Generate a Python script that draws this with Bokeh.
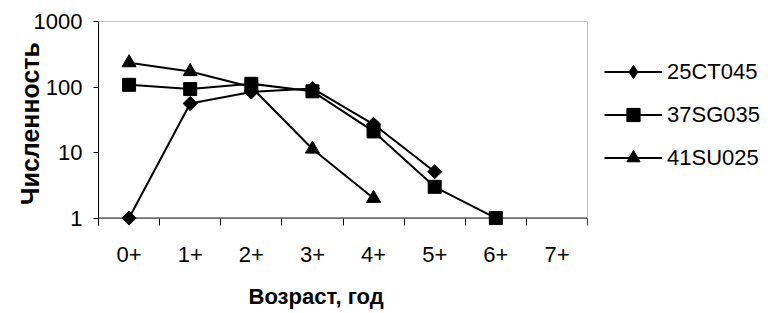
import math
from bokeh.plotting import figure
from bokeh.models import (Range1d, FixedTicker, PrintfTickFormatter, Span, Title,
                          Legend, LegendItem)
from bokeh.embed import file_html
from bokeh.resources import INLINE

# ---- data ----
ages = ["0+", "1+", "2+", "3+", "4+", "5+", "6+", "7+"]
s_25CT045 = [1, 56, 84, 95, 27, 5.1, None, None]
s_37SG035 = [108, 93, 112, 86, 21, 3, 1, None]
s_41SU025 = [235, 172, 100, 11.3, 2, None, None, None]
series_names = ["25CT045", "37SG035", "41SU025"]
y_ticks = [1, 10, 100, 1000]
x_title = "Возраст, год"
y_title = "Численность"

FONT = "Liberation Sans"
FS = "22px"

def clean(v):
    return [float("nan") if a is None else a for a in v]

xs = list(range(len(ages)))

p = figure(frame_width=489, frame_height=204,
           x_range=Range1d(-0.5, len(ages) - 0.5),
           y_range=Range1d(0.77, 1000),
           y_axis_type="log",
           output_backend="svg", toolbar_location=None,
           min_border_left=98, min_border_right=188,
           min_border_top=21, min_border_bottom=88)
p.xgrid.grid_line_color = None
p.ygrid.grid_line_color = None
p.outline_line_color = None
p.background_fill_color = "white"

# x axis (line drawn at y=1 via Span; ticks drawn inward from the frame bottom)
xa = p.xaxis[0]
xa.ticker = FixedTicker(ticks=xs, minor_ticks=[i - 0.5 for i in range(len(ages) + 1)])
xa.major_label_overrides = {i: a for i, a in enumerate(ages)}
xa.major_tick_line_color = None
xa.major_tick_out = 0
xa.major_tick_in = 0
xa.minor_tick_out = 0
xa.minor_tick_in = 7
xa.minor_tick_line_color = "black"
xa.axis_line_color = None
xa.major_label_standoff = 21
xa.major_label_text_font = FONT
xa.major_label_text_font_size = FS
xa.major_label_text_color = "black"

# y axis
ya = p.yaxis[0]
ya.ticker = FixedTicker(ticks=y_ticks)
ya.formatter = PrintfTickFormatter(format="%d")
ya.major_tick_out = 5
ya.major_tick_in = 0
ya.minor_tick_line_color = None
ya.axis_line_color = "black"
ya.major_tick_line_color = "black"
ya.major_label_standoff = 11
ya.major_label_text_font = FONT
ya.major_label_text_font_size = FS
ya.major_label_text_color = "black"
ya.axis_label = y_title
ya.axis_label_text_font = FONT
ya.axis_label_text_font_size = "25px"
ya.axis_label_text_font_style = "bold"
ya.axis_label_text_color = "black"
ya.axis_label_standoff = -13

# x axis line at y=1, frame top/right in gray
p.add_layout(Span(location=1, dimension="width", line_color="black", line_width=1))
p.add_layout(Span(location=1000, dimension="width", line_color="#808080", line_width=1))
p.add_layout(Span(location=len(ages) - 0.5, dimension="height", line_color="#808080", line_width=1))

# series
items = []
specs = [(s_25CT045, "diamond"), (s_37SG035, "square"), (s_41SU025, "triangle")]
for (vals, mk), name in zip(specs, series_names):
    ys = clean(vals)
    lr = p.line(xs, ys, line_color="black", line_width=2)
    if mk == "diamond":
        p.scatter(xs, ys, marker="square", angle=math.pi / 4, size=10,
                  fill_color="black", line_color="black")
        lg = p.scatter(xs, ys, marker="diamond", size=13,
                       fill_color="black", line_color="black", visible=False)
        items.append(LegendItem(label=name, renderers=[lr, lg]))
    elif mk == "square":
        sr = p.scatter(xs, ys, marker="square", size=13,
                       fill_color="black", line_color="black")
        items.append(LegendItem(label=name, renderers=[lr, sr]))
    else:
        sr = p.scatter(xs, ys, marker="triangle", size=14,
                       fill_color="black", line_color="black")
        items.append(LegendItem(label=name, renderers=[lr, sr]))

legend = Legend(items=items, location=(17, 51), orientation="vertical",
                glyph_width=58, glyph_height=33, label_height=33, spacing=10,
                padding=0, margin=0, label_standoff=5,
                border_line_color=None, background_fill_alpha=0,
                label_text_font=FONT, label_text_font_size=FS,
                label_text_color="black")
p.add_layout(legend, "right")

# x axis title
p.add_layout(Title(text=x_title, align="left", offset=150, standoff=34,
                   text_font=FONT, text_font_size=FS, text_font_style="bold",
                   text_color="black"), "below")

open("out.html", "w").write(file_html(p, INLINE))
